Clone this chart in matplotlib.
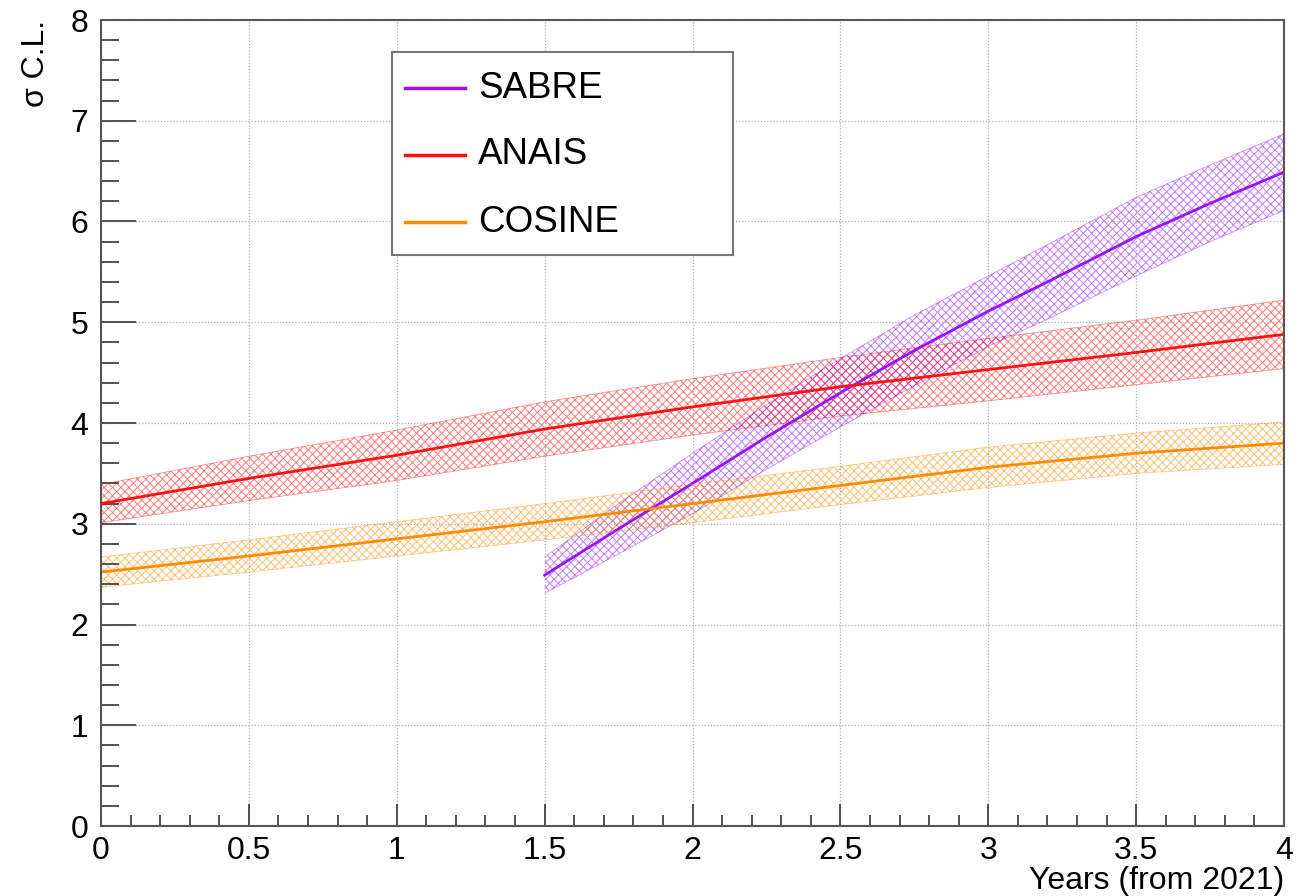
import numpy as np
import matplotlib
matplotlib.use("Agg")
import matplotlib.pyplot as plt
from matplotlib.ticker import MultipleLocator, FormatStrFormatter
from matplotlib.patches import Rectangle
from matplotlib.lines import Line2D

plt.rcParams['font.family'] = ['Liberation Sans', 'DejaVu Sans']
plt.rcParams['hatch.linewidth'] = 0.7

# sensitivity curves
anais_x = [0, 0.5, 1, 1.5, 2, 2.5, 3, 3.5, 4]
anais_y = [3.20, 3.45, 3.68, 3.94, 4.16, 4.36, 4.53, 4.70, 4.88]
anais_err = [0.19, 0.22, 0.25, 0.27, 0.28, 0.29, 0.31, 0.32, 0.34]

cosine_x = [0, 0.5, 1, 1.5, 2, 2.5, 3, 3.5, 4]
cosine_y = [2.52, 2.68, 2.85, 3.02, 3.20, 3.38, 3.56, 3.70, 3.80]
cosine_err = [0.15, 0.16, 0.17, 0.18, 0.19, 0.19, 0.20, 0.20, 0.21]

sabre_x = [1.5, 1.75, 2, 2.25, 2.5, 2.75, 3, 3.2, 3.5, 3.75, 4]
sabre_y = [2.49, 2.95, 3.40, 3.86, 4.30, 4.72, 5.11, 5.40, 5.85, 6.18, 6.49]
sabre_err = [0.18, 0.25, 0.30, 0.32, 0.34, 0.35, 0.35, 0.37, 0.39, 0.38, 0.38]

names = ['SABRE', 'ANAIS', 'COSINE']
colors = ['#9a10ff', '#ff1010', '#ff8c00']
series = [
    (sabre_x, sabre_y, sabre_err),
    (anais_x, anais_y, anais_err),
    (cosine_x, cosine_y, cosine_err),
]

fig = plt.figure(figsize=(13.09, 8.96), dpi=100)
ax = fig.add_axes([101 / 1309, 70 / 896, 1183 / 1309, 806 / 896])

for (x, y, err), col in zip(series, colors):
    x = np.array(x)
    y = np.array(y)
    err = np.array(err)
    ax.fill_between(x, y - err, y + err, facecolor='none', edgecolor=col,
                    hatch='xxxx', linewidth=0, alpha=0.55)
    ax.plot(x, y - err, color=col, lw=0.6, alpha=0.45)
    ax.plot(x, y + err, color=col, lw=0.6, alpha=0.45)
    ax.plot(x, y, color=col, lw=2)

ax.set_xlim(0, 4)
ax.set_ylim(0, 8)

ax.xaxis.set_major_locator(MultipleLocator(0.5))
ax.xaxis.set_minor_locator(MultipleLocator(0.1))
ax.yaxis.set_major_locator(MultipleLocator(1))
ax.yaxis.set_minor_locator(MultipleLocator(0.2))
ax.xaxis.set_major_formatter(FormatStrFormatter('%g'))
ax.yaxis.set_major_formatter(FormatStrFormatter('%g'))

ax.tick_params(axis='both', which='both', direction='in', colors='#444444',
               labelcolor='black', labelsize=23, width=1.3)
ax.tick_params(axis='y', which='major', length=25, pad=9)
ax.tick_params(axis='y', which='minor', length=13)
ax.tick_params(axis='x', which='major', length=16, pad=7)
ax.tick_params(axis='x', which='minor', length=8)

ax.grid(True, which='major', linestyle=(0, (1, 1.5)), color='#b0b0b0', linewidth=0.9)
for sp in ax.spines.values():
    sp.set_linewidth(1.5)
    sp.set_color('#555555')

ax.set_xlabel('Years (from 2021)', fontsize=23, loc='right', labelpad=0)
ax.set_ylabel('σ C.L.', fontsize=23, loc='top')
ax.yaxis.set_label_coords(-0.042, 1.0)

# legend box drawn by hand (ROOT TLegend look)
def to_ax(px, py):
    return (px - 101) / 1183, (826 - py) / 806

x0, y0 = to_ax(392, 255)
x1, y1 = to_ax(733, 52)
ax.add_patch(Rectangle((x0, y0), x1 - x0, y1 - y0, transform=ax.transAxes,
                       facecolor='white', edgecolor='#777777', lw=1.5, zorder=5))
for i, (name, col) in enumerate(zip(names, colors)):
    py = 88 + i * 67
    hx0, hy = to_ax(405, py)
    hx1, _ = to_ax(465, py)
    ax.add_line(Line2D([hx0, hx1], [hy, hy], transform=ax.transAxes,
                       color=col, lw=2.5, zorder=6))
    tx, _ = to_ax(478, py)
    ax.text(tx, hy, name, transform=ax.transAxes, fontsize=26.5,
            ha='left', va='center', zorder=6)

plt.savefig('out.png', dpi=100)
